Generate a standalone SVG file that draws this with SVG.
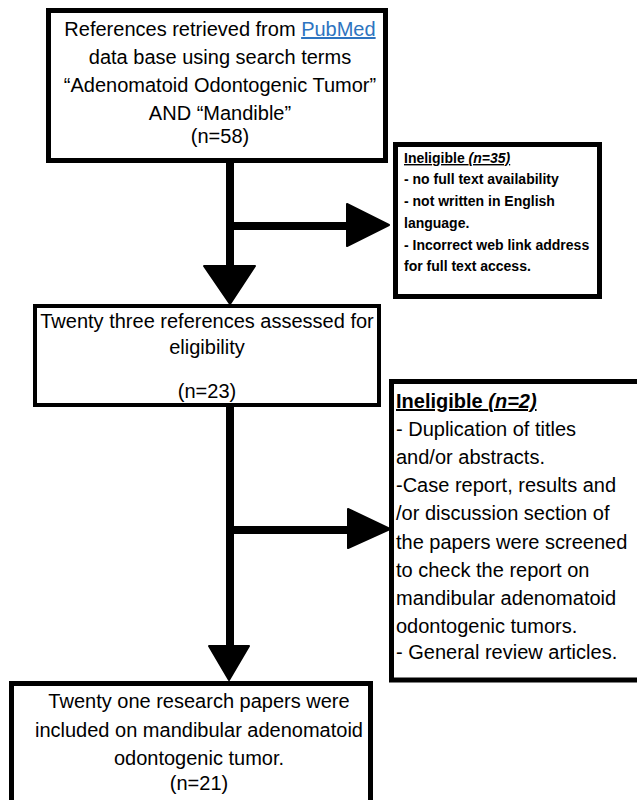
<svg xmlns="http://www.w3.org/2000/svg" width="637" height="800" viewBox="0 0 637 800">
<style>
.bg{fill:#fff}
.box{fill:#fff;stroke:#000;stroke-width:5}
.t{font-family:"Liberation Sans",Arial,sans-serif;font-size:20px;fill:#000}
.c{text-anchor:middle}
.s{font-size:14px;font-weight:bold}
.u{text-decoration:underline}
.link{fill:#2E74C0;text-decoration:underline}
.ln{stroke:#000;stroke-width:8;fill:none}
.ah{fill:#000;stroke:#000;stroke-width:2;stroke-linejoin:round}
</style>
<rect class="bg" x="0" y="0" width="637" height="800"/>
<g id="connectors">
  <line class="ln" x1="230" y1="160" x2="230" y2="268"/>
  <line class="ln" x1="230" y1="226" x2="350" y2="226"/>
  <polygon class="ah" points="347,204 389,225 347,246"/>
  <polygon class="ah" points="204,266 255,266 230,304"/>
  <line class="ln" x1="230" y1="404" x2="230" y2="648"/>
  <line class="ln" x1="230" y1="530" x2="350" y2="530"/>
  <polygon class="ah" points="348,509 390,529 348,548"/>
  <polygon class="ah" points="209,646 249,646 229,680"/>
</g>
<g id="node-search">
  <rect class="box" x="48.5" y="10.5" width="337" height="150"/>
  <text class="t c" x="220" y="36">References retrieved from <tspan class="link">PubMed</tspan></text>
  <text class="t c" x="220" y="64">data base using search terms</text>
  <text class="t c" x="220" y="92">“Adenomatoid Odontogenic Tumor”</text>
  <text class="t c" x="220" y="120">AND “Mandible”</text>
  <text class="t c" x="220" y="143">(n=58)</text>
</g>
<g id="node-ineligible-35">
  <rect class="box" x="395.5" y="144.5" width="204" height="152"/>
  <text class="t s" x="404" y="163"><tspan class="u">Ineligible </tspan><tspan class="u" font-style="italic">(n=35)</tspan></text>
  <text class="t s" x="404" y="184">- no full text availability</text>
  <text class="t s" x="404" y="206">- not written in English</text>
  <text class="t s" x="404" y="228">language.</text>
  <text class="t s" x="404" y="250">- Incorrect web link address</text>
  <text class="t s" x="404" y="271">for full text access.</text>
</g>
<g id="node-assessed">
  <rect class="box" x="35" y="306" width="344" height="99" style="stroke-width:4"/>
  <text class="t c" x="207" y="328">Twenty three references assessed for</text>
  <text class="t c" x="207" y="354">eligibility</text>
  <text class="t c" x="207" y="398">(n=23)</text>
</g>
<g id="node-ineligible-2">
  <rect class="box" x="391.5" y="381.5" width="260" height="298.5"/>
  <text class="t" x="396" y="408"><tspan class="u" font-weight="bold">Ineligible </tspan><tspan class="u" font-weight="bold" font-style="italic">(n=2)</tspan></text>
  <text class="t" x="396" y="436">- Duplication of titles</text>
  <text class="t" x="396" y="464">and/or abstracts.</text>
  <text class="t" x="396" y="492">-Case report, results and</text>
  <text class="t" x="396" y="520">/or discussion section of</text>
  <text class="t" x="396" y="549">the papers were screened</text>
  <text class="t" x="396" y="577">to check the report on</text>
  <text class="t" x="396" y="605">mandibular adenomatoid</text>
  <text class="t" x="396" y="633">odontogenic tumors.</text>
  <text class="t" x="396" y="659">- General review articles.</text>
</g>
<g id="node-included">
  <rect class="box" x="11.5" y="683.5" width="359" height="120"/>
  <text class="t c" x="199" y="708">Twenty one research papers were</text>
  <text class="t c" x="199" y="737">included on mandibular adenomatoid</text>
  <text class="t c" x="199" y="765">odontogenic tumor.</text>
  <text class="t c" x="199" y="790">(n=21)</text>
</g>
</svg>
